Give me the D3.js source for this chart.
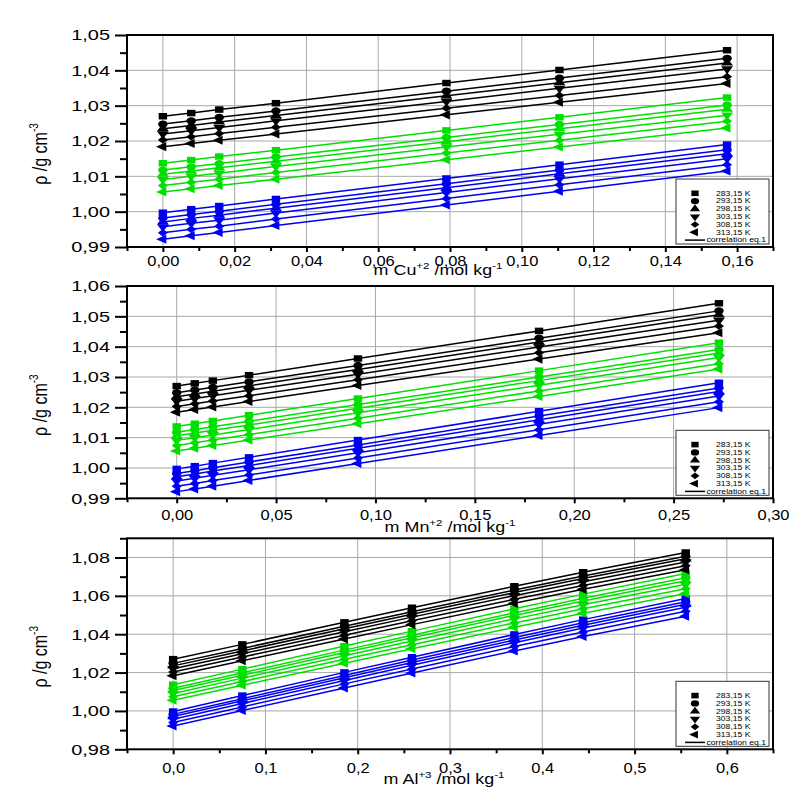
<!DOCTYPE html>
<html><head><meta charset="utf-8">
<script src="https://cdn.jsdelivr.net/npm/d3@7"></script>
<style>body{margin:0;background:#fff}svg{display:block}</style>
</head><body>
<svg id="c" width="808" height="801"></svg>
<script>
// ---------- DATA ----------
const temps = ["283,15 K","293,15 K","298,15 K","303,15 K","308,15 K","313,15 K"];

const cuX = [0, 0.0079, 0.0157, 0.0315, 0.0790, 0.1105, 0.1572];
const cuBlack = [
 [1.0270,1.0279,1.0289,1.0307,1.0364,1.0401,1.0457],
 [1.0248,1.0257,1.0267,1.0285,1.0341,1.0378,1.0434],
 [1.0235,1.0244,1.0254,1.0272,1.0328,1.0365,1.0421],
 [1.0220,1.0229,1.0238,1.0257,1.0312,1.0349,1.0404],
 [1.0203,1.0212,1.0221,1.0239,1.0293,1.0329,1.0382],
 [1.0184,1.0193,1.0202,1.0220,1.0274,1.0310,1.0363]];
const cuGreen = [
 [1.0137,1.0146,1.0156,1.0174,1.0230,1.0267,1.0323],
 [1.0118,1.0127,1.0136,1.0155,1.0210,1.0247,1.0302],
 [1.0106,1.0115,1.0124,1.0143,1.0198,1.0235,1.0290],
 [1.0091,1.0100,1.0109,1.0128,1.0183,1.0219,1.0273],
 [1.0074,1.0083,1.0092,1.0111,1.0166,1.0202,1.0256],
 [1.0056,1.0065,1.0074,1.0092,1.0147,1.0183,1.0237]];
const cuBlue = [
 [0.9997,1.0007,1.0016,1.0036,1.0094,1.0133,1.0190],
 [0.9982,0.9992,1.0001,1.0021,1.0079,1.0118,1.0175],
 [0.9971,0.9981,0.9990,1.0010,1.0068,1.0107,1.0164],
 [0.9957,0.9967,0.9976,0.9996,1.0054,1.0093,1.0150],
 [0.9940,0.9950,0.9959,0.9979,1.0037,1.0076,1.0133],
 [0.9922,0.9932,0.9941,0.9961,1.0019,1.0058,1.0115]];

const mnX = [0, 0.0091, 0.0182, 0.0364, 0.0912, 0.1823, 0.2728];
const mnBlack = [
 [1.0270,1.0279,1.0288,1.0306,1.0361,1.0452,1.0543],
 [1.0248,1.0257,1.0266,1.0284,1.0338,1.0428,1.0518],
 [1.0235,1.0244,1.0253,1.0271,1.0325,1.0415,1.0505],
 [1.0220,1.0229,1.0238,1.0256,1.0309,1.0399,1.0487],
 [1.0203,1.0212,1.0221,1.0238,1.0291,1.0380,1.0468],
 [1.0184,1.0193,1.0201,1.0219,1.0272,1.0359,1.0446]];
const mnGreen = [
 [1.0137,1.0146,1.0155,1.0174,1.0229,1.0321,1.0413],
 [1.0118,1.0127,1.0136,1.0154,1.0209,1.0300,1.0391],
 [1.0106,1.0115,1.0124,1.0142,1.0197,1.0288,1.0379],
 [1.0091,1.0100,1.0109,1.0127,1.0182,1.0273,1.0364],
 [1.0074,1.0083,1.0092,1.0110,1.0164,1.0254,1.0344],
 [1.0056,1.0065,1.0074,1.0092,1.0146,1.0236,1.0326]];
const mnBlue = [
 [0.9997,1.0006,1.0016,1.0035,1.0092,1.0187,1.0281],
 [0.9982,0.9991,1.0001,1.0020,1.0076,1.0171,1.0264],
 [0.9971,0.9980,0.9990,1.0008,1.0065,1.0159,1.0252],
 [0.9957,0.9966,0.9976,0.9994,1.0050,1.0144,1.0237],
 [0.9940,0.9949,0.9959,0.9977,1.0033,1.0126,1.0218],
 [0.9922,0.9931,0.9940,0.9959,1.0015,1.0107,1.0199]];

const alX = [0, 0.075, 0.1856, 0.2588, 0.3697, 0.4443, 0.5554];
const alBlack = [
 [1.0270,1.0347,1.0462,1.0538,1.0650,1.0723,1.0826],
 [1.0248,1.0326,1.0442,1.0517,1.0630,1.0703,1.0806],
 [1.0235,1.0313,1.0429,1.0504,1.0617,1.0690,1.0793],
 [1.0220,1.0298,1.0413,1.0489,1.0601,1.0674,1.0777],
 [1.0203,1.0281,1.0395,1.0470,1.0582,1.0654,1.0757],
 [1.0184,1.0262,1.0375,1.0450,1.0561,1.0634,1.0736]];
const alGreen = [
 [1.0137,1.0218,1.0338,1.0416,1.0533,1.0609,1.0717],
 [1.0118,1.0199,1.0317,1.0395,1.0511,1.0587,1.0694],
 [1.0106,1.0186,1.0305,1.0382,1.0498,1.0573,1.0679],
 [1.0091,1.0171,1.0288,1.0365,1.0480,1.0554,1.0660],
 [1.0074,1.0153,1.0269,1.0345,1.0459,1.0533,1.0637],
 [1.0056,1.0134,1.0249,1.0324,1.0436,1.0509,1.0612]];
const alBlue = [
 [0.9997,1.0080,1.0201,1.0280,1.0399,1.0476,1.0586],
 [0.9982,1.0064,1.0185,1.0265,1.0383,1.0460,1.0569],
 [0.9971,1.0053,1.0173,1.0253,1.0370,1.0447,1.0556],
 [0.9957,1.0039,1.0159,1.0238,1.0356,1.0432,1.0541],
 [0.9940,1.0021,1.0141,1.0219,1.0336,1.0412,1.0520],
 [0.9922,1.0002,1.0120,1.0198,1.0313,1.0388,1.0494]];

const cuXMajor = [0,0.02,0.04,0.06,0.08,0.10,0.12,0.14,0.16];
const cuXMinor = [-0.01,0.01,0.03,0.05,0.07,0.09,0.11,0.13,0.15,0.17];
const cuYMajor = [0.99,1.00,1.01,1.02,1.03,1.04,1.05];
const cuYMinor = [0.995,1.005,1.015,1.025,1.035,1.045];
const mnXMajor = [0,0.05,0.10,0.15,0.20,0.25,0.30];
const mnXMinor = [-0.025,0.025,0.075,0.125,0.175,0.225,0.275];
const mnYMajor = [0.99,1.00,1.01,1.02,1.03,1.04,1.05,1.06];
const mnYMinor = [0.995,1.005,1.015,1.025,1.035,1.045,1.055];
const alXMajor = [0,0.1,0.2,0.3,0.4,0.5,0.6];
const alXMinor = [-0.05,0.05,0.15,0.25,0.35,0.45,0.55,0.65];
const alYMajor = [0.98,1.00,1.02,1.04,1.06,1.08];
const alYMinor = [0.99,1.01,1.03,1.05,1.07,1.09];

// ---------- CHART ----------
const FONT = "'Liberation Sans', Arial, sans-serif";
const colors = ["#0000f0", "#00e000", "#000000"]; // blue, green, black
const svg = d3.select("#c").style("font-family", FONT);
svg.append("rect").attr("width",808).attr("height",801).attr("fill","#fff");

const comma = f => d => d3.format(f)(d).replace(".", ",");

const panels = [
 {ion:"Cu", chg:"+2", xs:cuX, groups:[cuBlue,cuGreen,cuBlack], xDom:[-0.01,0.17], yDom:[0.99,1.05],
  xMaj:cuXMajor, xMin:cuXMinor, yMaj:cuYMajor, yMin:cuYMinor, xf:comma(".2f"),
  left:127, right:773, top:35, bottom:247, xPad:3, titleX:438, titleY:274.5},
 {ion:"Mn", chg:"+2", xs:mnX, groups:[mnBlue,mnGreen,mnBlack], xDom:[-0.025,0.30], yDom:[0.99,1.06],
  xMaj:mnXMajor, xMin:mnXMinor, yMaj:mnYMajor, yMin:mnYMinor, xf:comma(".2f"),
  left:127, right:773, top:286, bottom:498.3, xPad:6, titleX:450, titleY:531.5},
 {ion:"Al", chg:"+3", xs:alX, groups:[alBlue,alGreen,alBlack], xDom:[-0.05,0.65], yDom:[0.98,1.09],
  xMaj:alXMajor, xMin:alXMinor, yMaj:alYMajor, yMin:alYMinor, xf:comma(".1f"),
  left:127, right:773, top:538.3, bottom:749.3, xPad:8, titleX:444, titleY:783.5}
];

const SX = 1.3;
const shapes = [
 {t:d3.symbolSquare, s:42, r:0},
 {t:d3.symbolCircle, s:42, r:0},
 {t:d3.symbolTriangle, s:36, r:0},
 {t:d3.symbolTriangle, s:36, r:180},
 {t:d3.symbolSquare, s:30, r:45},
 {t:d3.symbolTriangle, s:36, r:-90}
];

panels.forEach(p => {
  const x = d3.scaleLinear().domain(p.xDom).range([p.left, p.right]);
  const y = d3.scaleLinear().domain(p.yDom).range([p.bottom, p.top]);
  const g = svg.append("g");

  // grid
  g.append("g").selectAll("line").data(p.xMaj.filter(v => x(v) > p.left + 2 && x(v) < p.right - 2))
    .join("line").attr("x1", d => x(d)).attr("x2", d => x(d)).attr("y1", p.top).attr("y2", p.bottom)
    .attr("stroke", "#a9a9a9").attr("stroke-width", 1);
  g.append("g").selectAll("line").data(p.yMaj.filter(v => y(v) > p.top + 2 && y(v) < p.bottom - 2))
    .join("line").attr("y1", d => y(d)).attr("y2", d => y(d)).attr("x1", p.left).attr("x2", p.right)
    .attr("stroke", "#a9a9a9").attr("stroke-width", 1);

  // data
  const line = d3.line().x((d, i) => x(p.xs[i])).y(d => y(d));
  p.groups.forEach((grp, gi) => {
    grp.forEach((vals, ti) => {
      g.append("path").attr("d", line(vals)).attr("fill", "none")
        .attr("stroke", colors[gi]).attr("stroke-width", 1.5);
    });
    grp.forEach((vals, ti) => {
      const sh = shapes[ti];
      g.append("g").selectAll("path").data(vals).join("path")
        .attr("d", d3.symbol().type(sh.t).size(sh.s)())
        .attr("transform", (d, i) => `translate(${x(p.xs[i])},${y(d)}) scale(${SX},1) rotate(${sh.r})`)
        .attr("fill", colors[gi]);
    });
  });

  // axes
  const styleAxis = sel => {
    sel.select(".domain").remove();
    sel.selectAll("line").attr("stroke", "#000").attr("stroke-width", 2);
  };
  g.append("g").attr("transform", `translate(0,${p.bottom})`)
    .call(d3.axisBottom(x).tickValues(p.xMin).tickSize(4).tickFormat("")).call(styleAxis);
  const xa = g.append("g").attr("transform", `translate(0,${p.bottom})`)
    .call(d3.axisBottom(x).tickValues(p.xMaj).tickSize(5).tickPadding(p.xPad).tickFormat(p.xf)).call(styleAxis);
  xa.selectAll("text").attr("font-size", 15).attr("font-family", FONT).attr("fill", "#000")
    .attr("transform", "scale(1.1,1)");

  g.append("g").attr("transform", `translate(${p.left},0)`)
    .call(d3.axisLeft(y).tickValues(p.yMin).tickSize(7).tickFormat("")).call(styleAxis);
  const ya = g.append("g").attr("transform", `translate(${p.left},0)`)
    .call(d3.axisLeft(y).tickValues(p.yMaj).tickSize(12).tickPadding(5).tickFormat(comma(".2f"))).call(styleAxis);
  ya.selectAll("text").attr("font-size", 15).attr("font-family", FONT).attr("fill", "#000")
    .attr("x", -17 / 1.33).attr("transform", "scale(1.33,1)");

  // frame
  g.append("rect").attr("x", p.left).attr("y", p.top).attr("width", p.right - p.left)
    .attr("height", p.bottom - p.top).attr("fill", "none").attr("stroke", "#000").attr("stroke-width", 2);

  // x title
  const xt = g.append("text").attr("transform", `translate(${p.titleX},${p.titleY}) scale(1.28,1)`)
    .attr("text-anchor", "middle").attr("font-size", 14).attr("fill", "#000");
  xt.append("tspan").text("m " + p.ion);
  xt.append("tspan").attr("font-size", 9).attr("dy", -6).text(p.chg);
  xt.append("tspan").attr("dy", 6).text(" /mol kg");
  xt.append("tspan").attr("font-size", 9).attr("dy", -6).text("-1");

  // y title
  const cy = (p.top + p.bottom) / 2 + 13;
  const yt = g.append("text").attr("transform", `translate(47,${cy}) scale(1.3,1) rotate(-90)`)
    .attr("text-anchor", "middle").attr("font-size", 16).attr("fill", "#000");
  yt.append("tspan").text("\u03C1 /g cm");
  yt.append("tspan").attr("font-size", 10).attr("dy", -7).text("-3");

  // legend
  const lw = 93, lh = 65;
  const lx = p.right - 4 - lw, ly = p.bottom - 3 - lh;
  const lg = g.append("g");
  lg.append("rect").attr("x", lx).attr("y", ly).attr("width", lw).attr("height", lh)
    .attr("fill", "#fff").attr("stroke", "#333").attr("stroke-width", 1);
  temps.forEach((t, i) => {
    const ry = ly + 14.3 + i * 7.8;
    const sh = shapes[i];
    lg.append("path").attr("d", d3.symbol().type(sh.t).size(sh.s * 0.75)())
      .attr("transform", `translate(${lx + 19},${ry}) scale(${SX},1) rotate(${sh.r})`).attr("fill", "#000");
    lg.append("text").attr("transform", `translate(${lx + 40},${ry + 2.3}) scale(1.35,1)`)
      .attr("font-size", 6.4).attr("fill", "#000").text(t);
  });
  const cyL = ly + 14.3 + 6 * 7.8;
  lg.append("line").attr("x1", lx + 9).attr("x2", lx + 29).attr("y1", cyL).attr("y2", cyL)
    .attr("stroke", "#000").attr("stroke-width", 1.5);
  lg.append("text").attr("transform", `translate(${lx + 30.5},${cyL + 2.3}) scale(1.35,1)`)
    .attr("font-size", 6.4).attr("fill", "#000").text("correlation eq.1");
});
</script>
</body></html>
